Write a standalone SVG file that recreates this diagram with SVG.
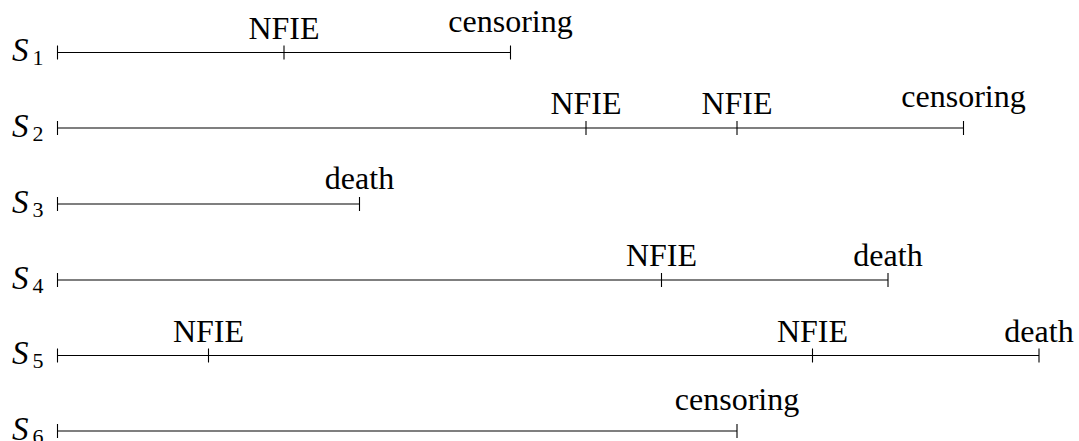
<svg xmlns="http://www.w3.org/2000/svg" width="1079" height="441" viewBox="0 0 1079 441">
<style>
.ln{stroke:#000;stroke-width:1.1;fill:none}
.lb{font-size:32px;text-anchor:middle}
.nm{font-size:33px}
.it{font-style:italic}
.sb{font-size:22px}
</style>
<rect width="1079" height="441" fill="#fff"/>
<g id="connectors">
<path class="ln" d="M57.5 52.5H510.5M57.5 45.5V59.5M284 45.5V59.5M510.5 45.5V59.5"/>
<path class="ln" d="M57.5 128H963.5M57.5 121V135M586 121V135M737 121V135M963.5 121V135"/>
<path class="ln" d="M57.5 204H359.5M57.5 197V211M359.5 197V211"/>
<path class="ln" d="M57.5 280H888M57.5 273V287M661.5 273V287M888 273V287"/>
<path class="ln" d="M57.5 355.5H1039M57.5 348.5V362.5M208.5 348.5V362.5M812.5 348.5V362.5M1039 348.5V362.5"/>
<path class="ln" d="M57.5 431H737M57.5 424V438M737 424V438"/>
</g>
<g font-family="Liberation Serif, serif" fill="#000">
<g id="S1">
<text class="nm" x="12" y="61"><tspan class="it">S</tspan><tspan class="sb" dx="4" dy="4">1</tspan></text>
<text class="lb" x="284" y="39">NFIE</text>
<text class="lb" x="510.5" y="32">censoring</text>
</g>
<g id="S2">
<text class="nm" x="12" y="136.5"><tspan class="it">S</tspan><tspan class="sb" dx="4" dy="4">2</tspan></text>
<text class="lb" x="586" y="114">NFIE</text>
<text class="lb" x="737" y="114">NFIE</text>
<text class="lb" x="963.5" y="107">censoring</text>
</g>
<g id="S3">
<text class="nm" x="12" y="212.5"><tspan class="it">S</tspan><tspan class="sb" dx="4" dy="4">3</tspan></text>
<text class="lb" x="359.5" y="189">death</text>
</g>
<g id="S4">
<text class="nm" x="12" y="288.5"><tspan class="it">S</tspan><tspan class="sb" dx="4" dy="4">4</tspan></text>
<text class="lb" x="661.5" y="266">NFIE</text>
<text class="lb" x="888" y="266">death</text>
</g>
<g id="S5">
<text class="nm" x="12" y="364"><tspan class="it">S</tspan><tspan class="sb" dx="4" dy="4">5</tspan></text>
<text class="lb" x="208.5" y="341.5">NFIE</text>
<text class="lb" x="812.5" y="341.5">NFIE</text>
<text class="lb" x="1039" y="341.5">death</text>
</g>
<g id="S6">
<text class="nm" x="12" y="439.5"><tspan class="it">S</tspan><tspan class="sb" dx="4" dy="4">6</tspan></text>
<text class="lb" x="737" y="410">censoring</text>
</g>
</g>
</svg>
